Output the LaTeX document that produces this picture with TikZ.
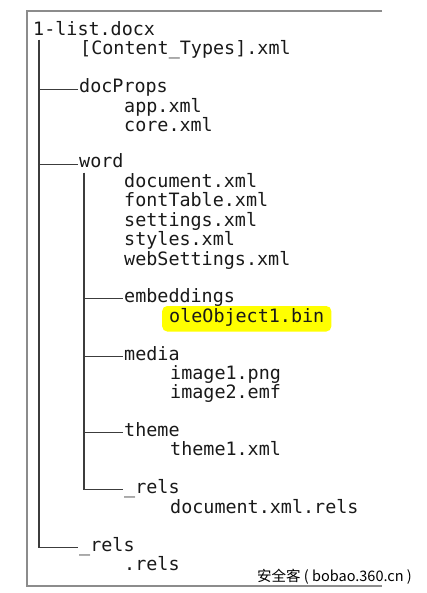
\documentclass[tikz,border=0pt]{standalone}
\usepackage{fontspec}
\usepackage{xcolor}
\setmonofont{DejaVu Sans Mono}
\newfontfamily\cjkfont{Noto Sans CJK SC}
\usetikzlibrary{positioning}

\definecolor{framegray}{HTML}{8C8C8C}
\definecolor{treegray}{HTML}{3C3C3C}
\definecolor{marker}{HTML}{FFFF00}

\begin{document}
\begin{tikzpicture}[
    x=1pt, y=-1pt,
    entry/.style={anchor=base west, inner xsep=1pt, inner ysep=0pt,
                  font=\ttfamily\fontsize{18.4}{19}\selectfont,
                  text=black!90, text height=0.8em, text depth=0.15em},
    branch/.style={draw=treegray, line width=1.4pt},
    frameline/.style={draw=framegray, line width=1.8pt},
    highlighted/.style={fill=marker, rounded corners=5pt, inner xsep=7pt,
                        inner ysep=8pt}
]
  \useasboundingbox (0,0) rectangle (427,593);

  % frame
  \draw[frameline] (382,11) -- (27,11) -- (27,586) -- (382,586);

  % entries
  \node[entry] (root) at (32,36) {1-list.docx};
  \node[entry] (ctypes) at (79,55) {[Content\_Types].xml};
  \node[entry] (docprops) at (78,93) {docProps};
  \node[entry] (app) at (123,113) {app.xml};
  \node[entry] (core) at (123,132) {core.xml};
  \node[entry] (word) at (78,168) {word};
  \node[entry] (document) at (123,188) {document.xml};
  \node[entry] (fonttable) at (123,207) {fontTable.xml};
  \node[entry] (settings) at (123,227) {settings.xml};
  \node[entry] (styles) at (123,246) {styles.xml};
  \node[entry] (websettings) at (123,265) {webSettings.xml};
  \node[entry] (embeddings) at (123,302) {embeddings};
  \node[entry, highlighted] (oleobj) at (162,322) {oleObject1.bin};
  \node[entry] (media) at (123,360) {media};
  \node[entry] (image1) at (169,379) {image1.png};
  \node[entry] (image2) at (169,398) {image2.emf};
  \node[entry] (theme) at (123,436) {theme};
  \node[entry] (theme1) at (169,455) {theme1.xml};
  \node[entry] (wordrels) at (123,493) {\_rels};
  \node[entry] (docrels) at (169,513) {document.xml.rels};
  \node[entry] (rels) at (78,551) {\_rels};
  \node[entry] (dotrels) at (123,570) {.rels};

  % tree connectors
  \coordinate (trunk) at (39,40);
  \coordinate (wordtrunk) at (84,173);
  \draw[branch] (trunk) |- (docprops.west);
  \draw[branch] (trunk) |- (word.west);
  \draw[branch] (trunk) |- (rels.west);
  \draw[branch] (wordtrunk) |- (embeddings.west);
  \draw[branch] (wordtrunk) |- (media.west);
  \draw[branch] (wordtrunk) |- (theme.west);
  \draw[branch] (wordtrunk) |- (wordrels.west);

  % watermark
  \node[anchor=base west, inner sep=0pt, font=\cjkfont\fontsize{14.5}{15}\selectfont]
    (mark) at (257,581) {安全客 ( bobao.360.cn )};
\end{tikzpicture}
\end{document}
